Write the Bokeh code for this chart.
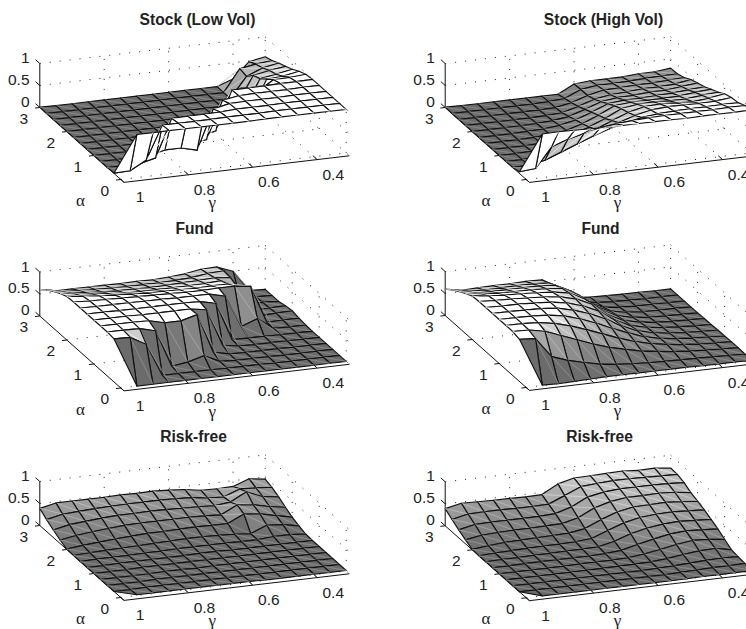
from bokeh.plotting import figure
from bokeh.models import Range1d, ColumnDataSource
from bokeh.core.properties import value
from bokeh.embed import file_html
from bokeh.resources import INLINE

N = float("nan")
ALPHA = [3, 2.75, 2.5, 2.25, 2, 1.75, 1.5, 1.25, 1, 0.75, 0.5, 0.25, 0]
GAMMA = [1, .95, .9, .85, .8, .75, .7, .65, .6, .55, .5, .45, .4, .35, .3]
Z_TICKS = [0, 0.5, 1]
Z_LABELS = ["0", "0.5", "1"]
A_TICKS = [0, 1, 2, 3]
G_TICKS = [1, 0.8, 0.6, 0.4]
G_LABELS = ["1", "0.8", "0.6", "0.4"]

stock_low = [
[.01,0,0,0,0,0,0,0,0,0,0,0,.13,.48,.55],
[0,0,0,0,0,0,0,0,0,0,0,0,.50,.56,.60],
[0,0,0,0,0,0,0,0,0,0,0,0,.46,.61,.68],
[0,0,0,0,0,0,0,0,0,0,0,0,.62,.69,.74],
[0,0,0,0,0,0,0,0,0,0,0,0,.68,.74,.81],
[0,0,0,0,0,0,0,0,0,0,.02,.10,.81,.83,.90],
[0,0,0,0,0,0,0,0,0,.09,.83,.70,.93,.94,.97],
[0,0,0,0,0,0,0,0,.08,.96,.97,.97,.98,.98,.99],
[0,0,0,0,0,0,0,.06,.91,.97,.98,.98,.98,.99,.99],
[0,0,0,0,.09,.09,0,.89,.97,.98,.98,.98,.99,.99,.99],
[0,0,0,.09,.94,.95,.95,.96,.98,.98,.98,.99,.99,.99,.99],
[.01,.02,.22,.97,.97,.97,.97,.98,.98,.98,.99,.99,.99,.99,.99],
[N,.98,.98,.98,.98,.98,.98,.98,.98,.99,.99,.99,.99,.99,.99],
]
fund_low = [
[.60,.53,.53,.53,.53,.52,.53,.52,.54,.57,.63,.64,.50,.02,.00],
[.73,.65,.63,.61,.60,.59,.59,.59,.60,.62,.67,.69,.05,.01,.00],
[.83,.75,.72,.69,.67,.67,.66,.67,.68,.69,.71,.67,.02,.02,.00],
[.92,.86,.82,.79,.76,.75,.75,.75,.75,.76,.78,.60,.02,.03,.04],
[.99,.95,.92,.89,.87,.85,.85,.84,.83,.84,.84,.67,.03,.05,.06],
[1,.98,.97,.96,.95,.94,.93,.92,.92,.93,.93,.88,.02,.03,.03],
[1,.99,.99,.99,.98,.98,.97,.97,.97,.88,.15,.28,.02,.01,.01],
[1,1,.99,.99,.99,.99,.99,.98,.90,.03,.02,.02,.01,.01,0],
[1,1,1,.99,.99,.99,.99,.93,.08,.02,.01,.01,.01,0,0],
[1,1,1,.99,.90,.90,1,.10,.02,.01,.01,.01,0,0,0],
[1,1,.99,.90,.05,.10,.20,.03,.01,.01,.01,0,0,0,0],
[.98,.97,.77,.02,.02,.02,.02,.01,.01,.01,0,0,0,0,0],
[N,0,0,0,0,0,0,0,0,0,0,0,0,0,0],
]
risk_low = [
[.39,.47,.47,.47,.47,.48,.47,.48,.46,.43,.37,.36,.37,.50,.45],
[.27,.35,.37,.39,.40,.41,.41,.41,.40,.38,.33,.31,.45,.43,.40],
[.17,.25,.28,.31,.33,.33,.34,.33,.32,.31,.29,.33,.52,.37,.32],
[.08,.14,.18,.21,.24,.25,.25,.25,.25,.24,.22,.40,.36,.28,.22],
[.01,.05,.08,.11,.13,.15,.15,.16,.17,.16,.16,.33,.29,.21,.13],
[0,.02,.03,.04,.05,.06,.07,.08,.08,.07,.05,.02,.17,.14,.07],
[0,.01,.01,.01,.02,.02,.03,.03,.03,.03,.02,.02,.05,.05,.02],
[0,0,.01,.01,.01,.01,.01,.02,.02,.01,.01,.01,.01,.01,.01],
[0,0,0,.01,.01,.01,.01,.01,.01,.01,.01,.01,.01,.01,.01],
[0,0,0,0,.01,.01,0,.01,.01,.01,.01,.01,.01,.01,.01],
[0,0,0,.01,.01,.01,.01,.01,.01,.01,.01,.01,.01,.01,.01],
[0,0,.01,.01,.01,.01,.01,.01,.01,.01,.01,.01,.01,.01,.01],
[N,.02,.02,.02,.02,.02,.02,.02,.02,.01,.01,.01,.01,.01,.01],
]
stock_high = [
[.01,0,0,0,0,0,0,0,.19,.22,.22,.22,.25,.25,.29],
[0,0,0,0,0,0,.01,.04,.20,.25,.25,.26,.28,.29,.30],
[0,0,0,0,0,0,.01,.08,.20,.28,.29,.31,.31,.33,.35],
[0,0,0,0,0,.01,.03,.13,.25,.31,.33,.36,.36,.38,.44],
[0,0,0,0,.01,.03,.08,.20,.33,.38,.39,.42,.42,.46,.50],
[0,0,0,.01,.02,.06,.14,.27,.42,.46,.46,.48,.49,.52,.55],
[0,0,0,.01,.03,.08,.19,.34,.51,.55,.55,.55,.56,.60,.63],
[0,0,0,.01,.04,.13,.25,.40,.58,.64,.65,.63,.63,.67,.70],
[0,0,.01,.03,.09,.19,.33,.49,.63,.72,.74,.72,.70,.74,.80],
[0,0,.02,.08,.18,.31,.45,.58,.70,.78,.81,.81,.80,.81,.85],
[0,.01,.08,.22,.36,.50,.62,.71,.79,.83,.85,.86,.86,.87,.87],
[.04,.07,.52,.65,.74,.82,.87,.90,.92,.93,.93,.93,.93,.94,.94],
[N,.99,1,.99,.98,.97,.97,.97,.97,.97,.96,.97,.97,.97,.98],
]
fund_high = [
[.60,.53,.54,.55,.55,.56,.55,.35,.07,.03,.02,.01,.01,0,0],
[.72,.64,.63,.63,.64,.64,.62,.44,.12,.04,.02,.01,0,0,0],
[.82,.74,.73,.73,.73,.73,.70,.52,.22,.07,.03,.01,.01,0,0],
[.91,.85,.83,.82,.82,.80,.77,.58,.28,.12,.05,.02,.01,.01,0],
[.99,.95,.92,.91,.89,.86,.80,.62,.33,.15,.07,.03,.02,.01,0],
[1,.98,.97,.95,.93,.89,.80,.64,.35,.18,.10,.05,.03,.02,.01],
[1,.99,.99,.97,.95,.89,.78,.62,.37,.20,.12,.07,.04,.02,.01],
[1,1,.99,.98,.95,.86,.74,.58,.37,.22,.13,.08,.05,.03,.02],
[1,1,.99,.97,.91,.80,.66,.50,.35,.22,.14,.09,.06,.04,.02],
[1,1,.98,.92,.82,.69,.55,.41,.29,.20,.14,.09,.06,.04,.03],
[1,.99,.92,.78,.64,.50,.38,.29,.21,.16,.11,.08,.06,.04,.03],
[.96,.93,.48,.35,.26,.18,.13,.10,.08,.07,.06,.05,.04,.03,.02],
[N,.01,0,.01,.02,.03,.03,.03,.03,.03,.03,.02,.02,.02,.01],
]
risk_high = [
[.39,.47,.46,.45,.45,.44,.45,.65,.74,.75,.76,.77,.74,.75,.71],
[.28,.36,.37,.37,.36,.36,.37,.52,.68,.71,.73,.73,.72,.71,.70],
[.18,.26,.27,.27,.27,.27,.29,.40,.58,.65,.68,.68,.68,.67,.65],
[.09,.15,.17,.18,.18,.19,.20,.29,.47,.57,.62,.62,.63,.61,.56],
[.01,.05,.08,.09,.10,.11,.12,.18,.34,.47,.54,.55,.56,.53,.50],
[0,.02,.03,.04,.05,.05,.06,.09,.23,.36,.44,.47,.48,.46,.44],
[0,.01,.01,.02,.02,.03,.03,.04,.12,.25,.33,.38,.40,.38,.36],
[0,0,.01,.01,.01,.01,.01,.02,.05,.14,.22,.29,.32,.30,.28],
[0,0,0,0,0,.01,.01,.01,.02,.06,.12,.19,.24,.22,.18],
[0,0,0,0,0,0,0,.01,.01,.02,.05,.10,.14,.15,.08],
[0,0,0,0,0,0,0,0,0,.01,.02,.04,.06,.07,.06],
[0,0,0,0,0,0,0,0,0,0,.01,.02,.03,.03,.04],
[N,0,0,0,0,0,0,0,0,0,0,.01,.01,.01,.01],
]

TITLES = ["Stock (Low Vol)", "Stock (High Vol)", "Fund", "Fund", "Risk-free", "Risk-free"]
TABLES = [stock_low, stock_high, fund_low, fund_high, risk_low, risk_high]

# layout of the panels (page pixels): where alpha=3, gamma=1, z=0 falls
ORIGINS = [(39.3, 107), (444.7, 107), (39.3, 315.5), (444.7, 315), (39.3, 525), (444.7, 525.3)]
TITLE_POS = [(197, 19), (603, 19), (194, 228), (600, 228), (193, 436), (599, 436)]

A_VEC = (27.0, 24.0)     # per unit of alpha (decreasing)
G_VEC = (16.1, -1.9)     # per 0.05 of gamma (decreasing)
Z_VEC = -44.0            # per unit of z
A_MIN, G_MIN = -0.12, 0.3


def proj(o, a, g, z):
    s = (3 - a)
    t = (1 - g) / 0.05
    return (o[0] + s * A_VEC[0] + t * G_VEC[0], o[1] + s * A_VEC[1] + t * G_VEC[1] + z * Z_VEC)


def shade(z):
    z = max(0.0, min(1.0, z))
    if z <= 0.8:
        return 0.42 + 0.5 * z
    return min(1.0, 0.82 + (z - 0.8) * 2.25)


def hexgray(v):
    i = int(round(255 * min(1, v)))
    return "#%02x%02x%02x" % (i, i, i)


p = figure(width=746, height=629, x_range=Range1d(0, 746), y_range=Range1d(629, 0),
           output_backend="svg", toolbar_location=None, x_axis_type=None, y_axis_type=None,
           min_border=0, outline_line_color=None)
p.grid.visible = False

FONT = value("Liberation Sans")
GREEK = value("Liberation Serif")

for o, table, title, tp in zip(ORIGINS, TABLES, TITLES, TITLE_POS):
    # dotted box grid
    segs = []
    for g in G_TICKS[1:] + [G_MIN]:
        segs.append((3, g, 0, 3, g, 1))                 # back-left wall verticals
    for z in Z_TICKS[1:]:
        segs.append((3, 1, z, 3, G_MIN, z))             # back-left wall horizontals
        segs.append((3, G_MIN, z, A_MIN, G_MIN, z))     # back-right wall horizontals
    for a in A_TICKS[:-1]:
        segs.append((a, G_MIN, 0, a, G_MIN, 1))         # back-right wall verticals
        segs.append((a, 1, 0, a, G_MIN, 0))             # floor lines
    for g in G_TICKS[1:]:
        segs.append((3, g, 0, A_MIN, g, 0))             # floor lines
    segs.append((3, G_MIN, 0, A_MIN, G_MIN, 0))
    xs, ys = [], []
    for s in segs:
        x0, y0 = proj(o, *s[:3])
        x1, y1 = proj(o, *s[3:])
        xs.append([x0, x1])
        ys.append([y0, y1])
    p.multi_line(xs, ys, line_color="#222222", line_width=1.0, line_dash="1 9")

    # solid axes and ticks
    xs, ys = [], []
    def seg(a0, g0, z0, a1, g1, z1):
        x0, y0 = proj(o, a0, g0, z0)
        x1, y1 = proj(o, a1, g1, z1)
        xs.append([x0, x1])
        ys.append([y0, y1])
    seg(3, 1, 0, 3, 1, 1)
    seg(3, 1, 0, A_MIN, 1, 0)
    seg(A_MIN, 1, 0, A_MIN, G_MIN, 0)
    for z in Z_TICKS:
        seg(3, 1, z, 3.16, 1, z)
    for a in A_TICKS:
        seg(a, 1, 0, a, 1.015, 0)
    for g in G_TICKS:
        seg(A_MIN, g, 0, A_MIN + 0.16, g, 0)
    p.multi_line(xs, ys, line_color="#111111", line_width=1.0)

    # surface, painted back to front; each cell followed by its faint diagonal
    cx, cy, fill, line, lw = [], [], [], [], []
    for r in range(len(ALPHA) - 1):
        for c in range(len(GAMMA) - 2, -1, -1):
            corners = [(r, c), (r, c + 1), (r + 1, c + 1), (r + 1, c)]
            pts = []
            for i, j in corners:
                z = table[i][j]
                if z == z:
                    pts.append(proj(o, ALPHA[i], GAMMA[j], z))
            v = shade(table[r + 1][c + 1])
            cx.append([q[0] for q in pts])
            cy.append([q[1] for q in pts])
            fill.append(hexgray(v))
            line.append("#111111")
            lw.append(1.15)
            if len(pts) == 4:
                cx.append([pts[0][0], pts[2][0]])
                cy.append([pts[0][1], pts[2][1]])
                fill.append(hexgray(v))
                line.append(hexgray(v + 0.13))
                lw.append(0.6)
    p.patches(xs="x", ys="y", fill_color="f", line_color="l", line_width="w", line_join="round",
              source=ColumnDataSource(dict(x=cx, y=cy, f=fill, l=line, w=lw)))

    # tick labels
    zx = [o[0] - 10.3] * len(Z_TICKS)
    zy = [o[1] - 6 - z * 43.5 for z in Z_TICKS]
    p.text(zx, zy, text=Z_LABELS, text_font=FONT, text_font_size="15.5px", text_color="#222222",
           text_align="right", text_baseline="middle")
    ax, ay = [], []
    for a in A_TICKS:
        x, y = proj(o, a, 1, 0)
        ax.append(x - 16)
        ay.append(y + 11)
    p.text(ax, ay, text=[str(a) for a in A_TICKS], text_font=FONT, text_font_size="15.5px",
           text_color="#222222", text_align="center", text_baseline="middle")
    gx, gy = [], []
    for g in G_TICKS:
        x, y = proj(o, A_MIN, g, 0)
        gx.append(x + 16)
        gy.append(y + 15)
    p.text(gx, gy, text=G_LABELS, text_font=FONT, text_font_size="15.5px", text_color="#222222",
           text_align="center", text_baseline="middle")
    p.text([o[0] + 40.7], [o[1] + 93], text=["α"], text_font=GREEK, text_font_size="17px",
           text_color="#222222", text_align="center", text_baseline="middle")
    p.text([o[0] + 172.4], [o[1] + 95], text=["γ"], text_font=GREEK, text_font_size="17px",
           text_color="#222222", text_align="center", text_baseline="middle")
    p.text([tp[0]], [tp[1]], text=[title], text_font=FONT, text_font_style="bold",
           text_font_size="15.6px", text_color="#222222", text_align="center", text_baseline="middle")

open("out.html", "w").write(file_html(p, INLINE))
